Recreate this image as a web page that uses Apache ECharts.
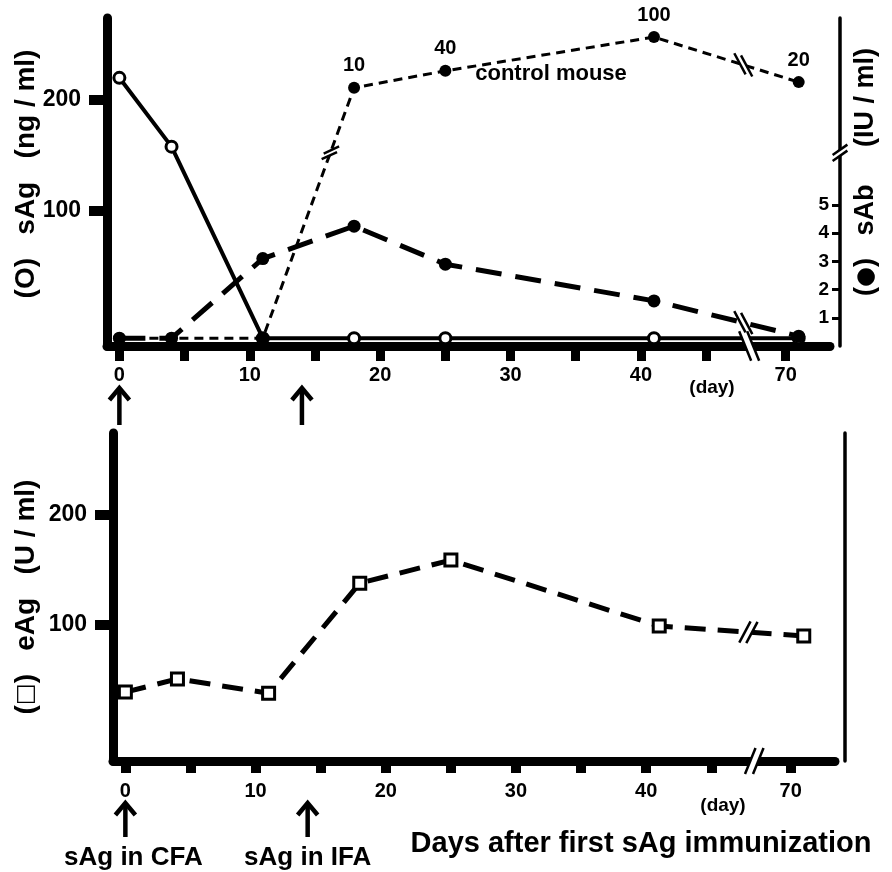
<!DOCTYPE html>
<html>
<head>
<meta charset="utf-8">
<script src="https://cdn.jsdelivr.net/npm/echarts@6.0.0/dist/echarts.min.js"></script>
<style>
  html, body { margin: 0; padding: 0; background: #fff; }
  #chart { width: 892px; height: 872px; }
</style>
</head>
<body>
<div id="chart"></div>
<script>
// Sampling days after the first sAg immunization
const days = [0, 4, 11, 18, 25, 41, 71];
// Serum sAg, ng/ml (0 = not detected)
const sAg = [220, 158, 0, 0, 0, 0, 0];
// Serum anti-sAg antibody, IU/ml (0 = not detected)
const sAb = [0, 0, 3.1, 4.25, 2.9, 1.6, 0.35];
// Antibody titre of the control mouse, IU/ml (0 = not detected)
const sAbControl = [0, 0, 0, 10, 40, 100, 20];
// eAg, U/ml
const eAg = [39, 51, 38, 138, 159, 99, 90];

// Immunizations marked under the day axis
const immunizationDays = [0, 14];
const immunizationLabels = ['sAg in CFA', 'sAg in IFA'];

// Day axis ticks and labels
const tickDays = [0, 5, 10, 15, 20, 25, 30, 35, 40, 45, 70];
const labelDays = [0, 10, 20, 30, 40, 70];
// Concentration axis ticks
const sAgTicks = [100, 200];
const sAbTicks = [1, 2, 3, 4, 5];
const eAgTicks = [100, 200];

// ---- scales -------------------------------------------------------------
// The day axis is broken: the stretch after DAY_BREAK.at is shortened by DAY_BREAK.skip days
const DAY_BREAK = { at: 48.3, skip: 18.9 };
const dayPos = d => (d > DAY_BREAK.at ? d - DAY_BREAK.skip : d);
const posDay = p => (p > DAY_BREAK.at ? Math.round(p + DAY_BREAK.skip) : p);

const DAY_RANGE = { min: -0.95, max: 54.5 };
const SAG_RANGE = { min: -21.6, max: 273.9 };
const SAB_RANGE = { min: 0, max: 11.63 };
// upper segment of the broken IU/ml axis (control mouse titres)
const CONTROL_RANGE = { min: -448.7, max: 133.9 };
const EAG_RANGE = { min: -23.6, max: 274.5 };
// IU/ml level where the right axis is broken
const SAB_BREAK = 6.85;
// undetected samples sit on the baseline, just above the day axis
const ND_FRACTION = 0.024;
const ndLevel = r => r.min + (r.max - r.min) * ND_FRACTION;
const plotValues = (vals, r) =>
  vals.map((v, i) => [dayPos(days[i]), v === 0 ? ndLevel(r) : v]);

// ---- layout -------------------------------------------------------------
const FONT = '"Liberation Sans", Arial, Helvetica, sans-serif';
const TOP = { left: 107, top: 18, width: 723, height: 328 };
const BOTTOM = { left: 113, top: 433, width: 722, height: 328 };
const RIGHT_OFFSET = 10;
const BLACK = '#000';

const bold = size => ({ color: BLACK, fontFamily: FONT, fontWeight: 'bold', fontSize: size });

function dayAxis(gridIndex, tickLen, tickWidth, labelMargin) {
  return {
    type: 'value', gridIndex, min: DAY_RANGE.min, max: DAY_RANGE.max,
    axisLine: { show: true, onZero: false, lineStyle: { color: BLACK, width: 9 } },
    axisTick: { show: true, length: tickLen, lineStyle: { color: BLACK, width: tickWidth },
      customValues: tickDays.map(dayPos) },
    axisLabel: Object.assign({ show: true, margin: labelMargin,
      customValues: labelDays.map(dayPos), formatter: v => String(posDay(v)) }, bold(20)),
    splitLine: { show: false }
  };
}

function concAxis(gridIndex, range, ticks) {
  return {
    type: 'value', gridIndex, position: 'left', min: range.min, max: range.max,
    axisLine: { show: true, onZero: false, lineStyle: { color: BLACK, width: 9 } },
    axisTick: { show: true, length: 18, lineStyle: { color: BLACK, width: 10 }, customValues: ticks },
    axisLabel: Object.assign({ show: true, margin: 26, customValues: ticks }, bold(23)),
    splitLine: { show: false }
  };
}

const option = {
  animation: false,
  backgroundColor: '#fff',
  textStyle: { fontFamily: FONT },
  grid: [
    Object.assign({ containLabel: false, outerBoundsMode: 'none' }, TOP),
    Object.assign({ containLabel: false, outerBoundsMode: 'none' }, BOTTOM)
  ],
  xAxis: [dayAxis(0, 15, 9, 19), dayAxis(1, 12, 10, 20)],
  yAxis: [
    concAxis(0, SAG_RANGE, sAgTicks),
    {
      type: 'value', gridIndex: 0, position: 'right', offset: RIGHT_OFFSET,
      min: SAB_RANGE.min, max: SAB_RANGE.max,
      axisLine: { show: true, onZero: false, lineStyle: { color: BLACK, width: 3.5 } },
      axisTick: { show: true, inside: true, length: 8, lineStyle: { color: BLACK, width: 3 }, customValues: sAbTicks },
      axisLabel: Object.assign({ show: true, inside: true, margin: 11, customValues: sAbTicks }, bold(19)),
      splitLine: { show: false }
    },
    { type: 'value', gridIndex: 0, position: 'right', show: false,
      min: CONTROL_RANGE.min, max: CONTROL_RANGE.max, splitLine: { show: false } },
    concAxis(1, EAG_RANGE, eAgTicks),
    {
      type: 'value', gridIndex: 1, position: 'right', offset: RIGHT_OFFSET,
      min: EAG_RANGE.min, max: EAG_RANGE.max,
      axisLine: { show: true, onZero: false, lineStyle: { color: BLACK, width: 3.5 } },
      axisTick: { show: false }, axisLabel: { show: false }, splitLine: { show: false }
    }
  ],
  series: [
    {
      name: 'sAg', type: 'line', xAxisIndex: 0, yAxisIndex: 0, silent: true, z: 3,
      data: plotValues(sAg, SAG_RANGE),
      symbol: 'circle', symbolSize: 11,
      lineStyle: { color: BLACK, width: 4 },
      itemStyle: { color: '#fff', borderColor: BLACK, borderWidth: 3 }
    },
    {
      name: 'sAb', type: 'line', xAxisIndex: 0, yAxisIndex: 1, silent: true, z: 5,
      data: plotValues(sAb, SAB_RANGE),
      symbol: 'circle', symbolSize: 13,
      lineStyle: { color: BLACK, width: 5, type: [26, 14] },
      itemStyle: { color: BLACK }
    },
    {
      name: 'control mouse', type: 'line', xAxisIndex: 0, yAxisIndex: 2, silent: true, z: 4,
      data: plotValues(sAbControl, CONTROL_RANGE),
      symbol: 'circle', symbolSize: 12,
      lineStyle: { color: BLACK, width: 3, type: [9, 6] },
      itemStyle: { color: BLACK },
      label: Object.assign({
        show: true, position: 'top', distance: 6,
        formatter: p => (sAbControl[p.dataIndex] > 0 ? String(sAbControl[p.dataIndex]) : '')
      }, bold(20))
    },
    {
      name: 'eAg', type: 'line', xAxisIndex: 1, yAxisIndex: 3, silent: true, z: 4,
      data: plotValues(eAg, EAG_RANGE),
      symbol: 'rect', symbolSize: 12,
      lineStyle: { color: BLACK, width: 5, type: [21, 12] },
      itemStyle: { color: '#fff', borderColor: BLACK, borderWidth: 3 }
    }
  ]
};

const chart = echarts.init(document.getElementById('chart'), null, { renderer: 'canvas' });
chart.setOption(option);

// ---- decorations placed through the axes' own scales ----------------------
const toPx = (xi, yi, x, y) => chart.convertToPixel({ xAxisIndex: xi, yAxisIndex: yi }, [x, y]);

function breakMark(c, u, angleDeg, len, sep, width) {
  const a = angleDeg * Math.PI / 180;
  const m = [Math.cos(a), Math.sin(a)];
  const h = len / 2, s = sep / 2;
  const p = (k, j) => [c[0] + k * s * u[0] + j * h * m[0], c[1] + k * s * u[1] + j * h * m[1]];
  const stroke = { stroke: BLACK, lineWidth: width };
  return [
    { type: 'polygon', z: 100, silent: true, shape: { points: [p(-1, -1), p(-1, 1), p(1, 1), p(1, -1)] },
      style: { fill: '#fff' } },
    { type: 'line', z: 101, silent: true,
      shape: { x1: p(-1, -1)[0], y1: p(-1, -1)[1], x2: p(-1, 1)[0], y2: p(-1, 1)[1] }, style: stroke },
    { type: 'line', z: 101, silent: true,
      shape: { x1: p(1, -1)[0], y1: p(1, -1)[1], x2: p(1, 1)[0], y2: p(1, 1)[1] }, style: stroke }
  ];
}

// where a plotted segment crosses a given x or y pixel position
function segmentBreakAtX(A, B, x) {
  const t = (x - A[0]) / (B[0] - A[0]);
  const c = [x, A[1] + t * (B[1] - A[1])];
  const L = Math.hypot(B[0] - A[0], B[1] - A[1]);
  return { c, u: [(B[0] - A[0]) / L, (B[1] - A[1]) / L] };
}
function segmentBreakAtY(A, B, y) {
  const t = (y - A[1]) / (B[1] - A[1]);
  const c = [A[0] + t * (B[0] - A[0]), y];
  const L = Math.hypot(B[0] - A[0], B[1] - A[1]);
  return { c, u: [(B[0] - A[0]) / L, (B[1] - A[1]) / L] };
}

function arrow(x, yTop, yBottom) {
  return [
    { type: 'line', z: 50, silent: true, shape: { x1: x, y1: yTop + 2, x2: x, y2: yBottom },
      style: { stroke: BLACK, lineWidth: 4.5 } },
    { type: 'polyline', z: 50, silent: true,
      shape: { points: [[x - 10, yTop + 12], [x, yTop], [x + 10, yTop + 12]] },
      style: { stroke: BLACK, lineWidth: 4.5, fill: null, lineJoin: 'miter' } }
  ];
}

function text(str, x, y, size, rotation, rich) {
  return {
    type: 'text', z: 60, silent: true, x, y, rotation: rotation || 0,
    style: {
      text: str, fill: BLACK, fontSize: size, fontWeight: 'bold', fontFamily: FONT,
      textAlign: 'center', textVerticalAlign: 'middle', align: 'center', verticalAlign: 'middle',
      rich: rich || undefined
    }
  };
}
const symbolRich = {
  sym: { fontSize: 23, fontWeight: 'bold', fontFamily: '"DejaVu Sans", sans-serif', fill: BLACK }
};

const graphics = [];
const seriesPx = (yi, xi, vals, range) =>
  plotValues(vals, range).map(d => toPx(xi, yi, d[0], d[1]));

const sAbPx = seriesPx(1, 0, sAb, SAB_RANGE);
const ctrlPx = seriesPx(2, 0, sAbControl, CONTROL_RANGE);
const eAgPx = seriesPx(3, 1, eAg, EAG_RANGE);
const last = days.length - 1;

// day axis breaks
const topBreak = toPx(0, 0, DAY_BREAK.at, SAG_RANGE.min);
const botBreak = toPx(1, 3, DAY_BREAK.at, EAG_RANGE.min);
graphics.push(...breakMark(topBreak, [1, 0], 68, 32, 8, 2.5));
graphics.push(...breakMark(botBreak, [1, 0], -68, 28, 8, 2.5));

// breaks on the lines that cross the shortened day range
const lineBreakX = xi => toPx(xi, xi === 0 ? 0 : 3, DAY_BREAK.at - 0.45, 0)[0];
[[sAbPx, 0, 62], [ctrlPx, 0, 62], [eAgPx, 1, -62]].forEach(([pts, xi, ang]) => {
  const b = segmentBreakAtX(pts[last - 1], pts[last], lineBreakX(xi));
  graphics.push(...breakMark(b.c, b.u, ang, 24, 7, 2.5));
});

// broken right axis and the control line where it crosses that break
const rightX = toPx(0, 1, DAY_RANGE.max, 0)[0] + RIGHT_OFFSET;
const breakY = toPx(0, 1, 0, SAB_BREAK)[1];
graphics.push(...breakMark([rightX, breakY], [0, 1], -35, 18, 6, 2.5));
const cb = segmentBreakAtY(ctrlPx[2], ctrlPx[3], breakY);
graphics.push(...breakMark(cb.c, cb.u, -25, 17, 6, 2.5));

// immunization arrows and labels
const topAxisY = TOP.top + TOP.height;
const botAxisY = BOTTOM.top + BOTTOM.height;
immunizationDays.forEach((d, i) => {
  const xt = toPx(0, 0, dayPos(d), 0)[0];
  const xb = toPx(1, 3, dayPos(d), 0)[0];
  graphics.push(...arrow(xt, topAxisY + 42, topAxisY + 79));
  graphics.push(...arrow(xb, botAxisY + 42, botAxisY + 76));
  graphics.push(text(immunizationLabels[i], xb + (i === 0 ? 8 : 0), botAxisY + 97, 26));
});

// axis titles and notes
graphics.push(text('(O)   sAg   (ng / ml)', 26, 174, 28, Math.PI / 2));
graphics.push(text('({sym|●})   sAb     (IU / ml)', 866, 172, 27, Math.PI / 2, symbolRich));
graphics.push(text('({sym|□})   eAg   (U / ml)', 26, 597, 28, Math.PI / 2, symbolRich));
graphics.push(text('control mouse', 551, 74, 22));
graphics.push(text('(day)', 712, 388, 19));
graphics.push(text('(day)', 723, 806, 19));
graphics.push(text('Days after first sAg immunization', 641, 844, 29));

chart.setOption({ graphic: graphics });
</script>
</body>
</html>
